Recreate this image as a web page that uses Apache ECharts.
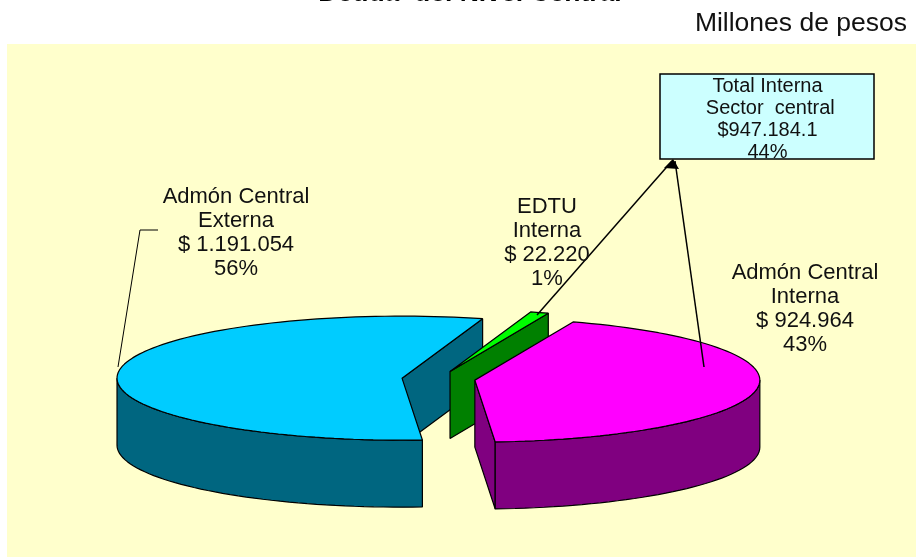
<!DOCTYPE html>
<html>
<head>
<meta charset="utf-8">
<style>
html, body { margin: 0; padding: 0; background: #fff; }
#main { width: 916px; height: 557px; }
</style>
<script src="https://cdn.jsdelivr.net/npm/echarts@6/dist/echarts.min.js"></script>
</head>
<body>
<div id="main"></div>
<script>
// datos
var categories = ['Admón Central Interna', 'EDTU Interna', 'Admón Central Externa'];
var values = [924964, 22220, 1191054];
var topColors = ['#ff00ff', '#00ff00', '#00ccff'];
var sideColors = ['#800080', '#008000', '#006680'];
var labelLines = [
    ['Admón Central', 'Interna', '$ 924.964', '43%'],
    ['EDTU', 'Interna', '$ 22.220', '1%'],
    ['Admón Central', 'Externa', '$ 1.191.054', '56%']
];
var totalLines = ['Total Interna', ' Sector  central', '$947.184.1', '44%'];
var titleText = 'Deuda  del Nivel Central';
var unitText = 'Millones de pesos';

// geometria del pastel
var cx = 438.5, cy = 379, rx = 285, ry = 62, depth = 67, explode = 36.7, startAngle = -85.9;
var fontName = '"Liberation Sans", Arial, sans-serif';

var total = values.reduce(function (a, b) { return a + b; }, 0);

function rad(a) { return a * Math.PI / 180; }

function rim(x, y, a0, a1, dy) {
    var pts = [];
    var n = Math.max(2, Math.ceil(Math.abs(a1 - a0) / 2));
    for (var i = 0; i <= n; i++) {
        var a = rad(a0 + (a1 - a0) * i / n);
        pts.push([x + rx * Math.cos(a), y - ry * Math.sin(a) + dy]);
    }
    return pts;
}

// el ultimo sector de los datos va al fondo, el primero queda encima
function poly(points, color, idx) {
    return {
        type: 'polygon',
        z2: values.length - idx,
        shape: { points: points },
        style: { fill: color, stroke: '#000', lineWidth: 1.2, lineJoin: 'bevel' }
    };
}

function renderSlice(params, api) {
    var idx = params.dataIndex;
    var before = 0;
    for (var i = 0; i < idx; i++) before += values[i];
    var a0 = startAngle + before / total * 360;
    var a1 = a0 + api.value(1) / total * 360;
    var mid = rad((a0 + a1) / 2);
    var x = cx + explode * Math.cos(mid);
    var y = cy - explode * ry / rx * Math.sin(mid);
    var children = [];

    // caras del corte, solo las que miran al frente
    [[a0, -90], [a1, 90]].forEach(function (f) {
        if (Math.sin(rad(f[0] + f[1])) < 0) {
            var p = rim(x, y, f[0], f[0], 0)[0];
            children.push(poly([[x, y], p, [p[0], p[1] + depth], [x, y + depth]], sideColors[idx], idx));
        }
    });

    // borde exterior: la parte de abajo de la elipse
    for (var k = -1; k <= 1; k += 2) {
        var b0 = Math.max(a0, 180 * k);
        var b1 = Math.min(a1, 180 * k + 180);
        if (b1 > b0) {
            children.push(poly(rim(x, y, b0, b1, 0).concat(rim(x, y, b1, b0, depth)), sideColors[idx], idx));
        }
    }

    // cara superior
    children.push(poly([[x, y]].concat(rim(x, y, a0, a1, 0)), topColors[idx], idx));
    return { type: 'group', children: children };
}

function textBlock(lines, x, y, size, lh) {
    return lines.map(function (t, i) {
        return {
            type: 'text', z: 10, x: x, y: y + i * lh,
            style: { text: t, fill: '#111', font: size + 'px ' + fontName, textAlign: 'center', textVerticalAlign: 'middle' }
        };
    });
}

function line(points, width) {
    return {
        type: 'polyline', z: 9,
        shape: { points: points },
        style: { fill: null, stroke: '#000', lineWidth: width }
    };
}

var chart = echarts.init(document.getElementById('main'), null, { renderer: 'canvas' });

var graphics = [
    { type: 'rect', z: -10, shape: { x: 7, y: 44, width: 909, height: 513 }, style: { fill: '#ffffcc' } },
    {
        type: 'text', z: 10, x: 470, y: -6,
        style: { text: titleText, fill: '#000', font: 'bold 26.5px ' + fontName, textAlign: 'center', textVerticalAlign: 'middle' }
    },
    {
        type: 'text', z: 10, x: 907, y: 24,
        style: { text: unitText, fill: '#111', font: '26.5px ' + fontName, textAlign: 'right', textVerticalAlign: 'middle' }
    },
    { type: 'rect', z: 8, shape: { x: 660, y: 74, width: 214, height: 85 }, style: { fill: '#ccffff', stroke: '#000', lineWidth: 1.5 } },
    line([[118, 367], [140, 230], [158, 230]], 1),
    line([[537, 315], [672, 161]], 1.5),
    line([[704, 367], [675, 161]], 1.5),
    { type: 'polygon', z: 9, shape: { points: [[673, 159], [664, 168], [679, 169]] }, style: { fill: '#000' } }
];
graphics = graphics
    .concat(textBlock(labelLines[2], 236, 197, 22, 24))
    .concat(textBlock(labelLines[1], 547, 207, 22, 24))
    .concat(textBlock(labelLines[0], 805, 273, 22, 24))
    .concat(textBlock(totalLines, 767.5, 86, 20, 22));

chart.setOption({
    animation: false,
    graphic: graphics,
    series: [{
        type: 'custom',
        coordinateSystem: 'none',
        renderItem: renderSlice,
        silent: true,
        z: 2,
        data: values.map(function (v, i) {
            return { name: categories[i], value: [i, v] };
        }),
        encode: { value: 1 }
    }]
});
</script>
</body>
</html>
